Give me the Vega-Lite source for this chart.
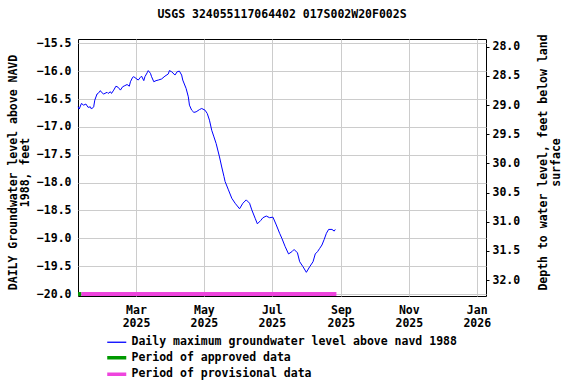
{
  "$schema": "https://vega.github.io/schema/vega-lite/v6.json",
  "autosize": "none",
  "width": 408,
  "height": 257,
  "padding": {"left": 78, "top": 39, "right": 90, "bottom": 88},
  "background": "white",
  "title": {
    "text": "USGS 324055117064402 017S002W20F002S",
    "font": "DejaVu Sans Mono",
    "fontSize": 11.5,
    "fontWeight": "bold",
    "color": "black",
    "anchor": "middle",
    "offset": 13
  },
  "config": {
    "view": {"stroke": "black", "strokeWidth": 1},
    "axis": {
      "labelFont": "DejaVu Sans Mono",
      "labelFontSize": 11.5,
      "labelFontWeight": "bold",
      "labelColor": "black",
      "titleFont": "DejaVu Sans Mono",
      "titleFontSize": 11.5,
      "titleFontWeight": "bold",
      "titleColor": "black",
      "gridColor": "#cccccc",
      "gridWidth": 1,
      "domain": false,
      "labelOverlap": false
    },
    "legend": {
      "labelFont": "DejaVu Sans Mono",
      "labelFontSize": 11.5,
      "labelFontWeight": "bold",
      "labelColor": "black"
    }
  },
  "resolve": {"scale": {"y": "independent"}, "axis": {"y": "independent"}},
  "layer": [
    {
      "layer": [
        {
          "data": {
            "values": [
              {"date": "2025-01-08T00:00", "level": -16.64, "series": "Daily maximum groundwater level above navd 1988"},
              {"date": "2025-01-09T00:00", "level": -16.68, "series": "Daily maximum groundwater level above navd 1988"},
              {"date": "2025-01-11T00:00", "level": -16.58, "series": "Daily maximum groundwater level above navd 1988"},
              {"date": "2025-01-13T00:00", "level": -16.61, "series": "Daily maximum groundwater level above navd 1988"},
              {"date": "2025-01-15T00:00", "level": -16.59, "series": "Daily maximum groundwater level above navd 1988"},
              {"date": "2025-01-17T00:00", "level": -16.65, "series": "Daily maximum groundwater level above navd 1988"},
              {"date": "2025-01-19T00:00", "level": -16.64, "series": "Daily maximum groundwater level above navd 1988"},
              {"date": "2025-01-20T00:00", "level": -16.68, "series": "Daily maximum groundwater level above navd 1988"},
              {"date": "2025-01-22T00:00", "level": -16.64, "series": "Daily maximum groundwater level above navd 1988"},
              {"date": "2025-01-23T00:00", "level": -16.52, "series": "Daily maximum groundwater level above navd 1988"},
              {"date": "2025-01-25T00:00", "level": -16.41, "series": "Daily maximum groundwater level above navd 1988"},
              {"date": "2025-01-26T00:00", "level": -16.40, "series": "Daily maximum groundwater level above navd 1988"},
              {"date": "2025-01-28T00:00", "level": -16.35, "series": "Daily maximum groundwater level above navd 1988"},
              {"date": "2025-01-29T00:00", "level": -16.38, "series": "Daily maximum groundwater level above navd 1988"},
              {"date": "2025-01-31T00:00", "level": -16.41, "series": "Daily maximum groundwater level above navd 1988"},
              {"date": "2025-02-03T00:00", "level": -16.38, "series": "Daily maximum groundwater level above navd 1988"},
              {"date": "2025-02-04T00:00", "level": -16.40, "series": "Daily maximum groundwater level above navd 1988"},
              {"date": "2025-02-06T00:00", "level": -16.37, "series": "Daily maximum groundwater level above navd 1988"},
              {"date": "2025-02-07T00:00", "level": -16.40, "series": "Daily maximum groundwater level above navd 1988"},
              {"date": "2025-02-09T00:00", "level": -16.34, "series": "Daily maximum groundwater level above navd 1988"},
              {"date": "2025-02-11T00:00", "level": -16.27, "series": "Daily maximum groundwater level above navd 1988"},
              {"date": "2025-02-13T00:00", "level": -16.29, "series": "Daily maximum groundwater level above navd 1988"},
              {"date": "2025-02-15T00:00", "level": -16.34, "series": "Daily maximum groundwater level above navd 1988"},
              {"date": "2025-02-17T00:00", "level": -16.28, "series": "Daily maximum groundwater level above navd 1988"},
              {"date": "2025-02-19T00:00", "level": -16.26, "series": "Daily maximum groundwater level above navd 1988"},
              {"date": "2025-02-21T00:00", "level": -16.24, "series": "Daily maximum groundwater level above navd 1988"},
              {"date": "2025-02-23T00:00", "level": -16.27, "series": "Daily maximum groundwater level above navd 1988"},
              {"date": "2025-02-24T00:00", "level": -16.19, "series": "Daily maximum groundwater level above navd 1988"},
              {"date": "2025-02-26T00:00", "level": -16.11, "series": "Daily maximum groundwater level above navd 1988"},
              {"date": "2025-02-27T00:00", "level": -16.10, "series": "Daily maximum groundwater level above navd 1988"},
              {"date": "2025-03-01T00:00", "level": -16.13, "series": "Daily maximum groundwater level above navd 1988"},
              {"date": "2025-03-03T00:00", "level": -16.16, "series": "Daily maximum groundwater level above navd 1988"},
              {"date": "2025-03-05T00:00", "level": -16.11, "series": "Daily maximum groundwater level above navd 1988"},
              {"date": "2025-03-06T00:00", "level": -16.09, "series": "Daily maximum groundwater level above navd 1988"},
              {"date": "2025-03-08T00:00", "level": -16.17, "series": "Daily maximum groundwater level above navd 1988"},
              {"date": "2025-03-09T00:00", "level": -16.10, "series": "Daily maximum groundwater level above navd 1988"},
              {"date": "2025-03-11T00:00", "level": -16.03, "series": "Daily maximum groundwater level above navd 1988"},
              {"date": "2025-03-12T00:00", "level": -15.99, "series": "Daily maximum groundwater level above navd 1988"},
              {"date": "2025-03-14T00:00", "level": -16.04, "series": "Daily maximum groundwater level above navd 1988"},
              {"date": "2025-03-15T00:00", "level": -16.10, "series": "Daily maximum groundwater level above navd 1988"},
              {"date": "2025-03-17T00:00", "level": -16.19, "series": "Daily maximum groundwater level above navd 1988"},
              {"date": "2025-03-19T00:00", "level": -16.17, "series": "Daily maximum groundwater level above navd 1988"},
              {"date": "2025-03-21T00:00", "level": -16.16, "series": "Daily maximum groundwater level above navd 1988"},
              {"date": "2025-03-24T00:00", "level": -16.14, "series": "Daily maximum groundwater level above navd 1988"},
              {"date": "2025-03-27T00:00", "level": -16.09, "series": "Daily maximum groundwater level above navd 1988"},
              {"date": "2025-03-30T00:00", "level": -16.05, "series": "Daily maximum groundwater level above navd 1988"},
              {"date": "2025-03-31T00:00", "level": -15.99, "series": "Daily maximum groundwater level above navd 1988"},
              {"date": "2025-04-02T00:00", "level": -16.01, "series": "Daily maximum groundwater level above navd 1988"},
              {"date": "2025-04-05T00:00", "level": -16.07, "series": "Daily maximum groundwater level above navd 1988"},
              {"date": "2025-04-07T00:00", "level": -16.01, "series": "Daily maximum groundwater level above navd 1988"},
              {"date": "2025-04-09T00:00", "level": -16.00, "series": "Daily maximum groundwater level above navd 1988"},
              {"date": "2025-04-11T00:00", "level": -16.07, "series": "Daily maximum groundwater level above navd 1988"},
              {"date": "2025-04-12T00:00", "level": -16.16, "series": "Daily maximum groundwater level above navd 1988"},
              {"date": "2025-04-15T00:00", "level": -16.31, "series": "Daily maximum groundwater level above navd 1988"},
              {"date": "2025-04-17T00:00", "level": -16.46, "series": "Daily maximum groundwater level above navd 1988"},
              {"date": "2025-04-18T00:00", "level": -16.61, "series": "Daily maximum groundwater level above navd 1988"},
              {"date": "2025-04-20T00:00", "level": -16.70, "series": "Daily maximum groundwater level above navd 1988"},
              {"date": "2025-04-22T00:00", "level": -16.74, "series": "Daily maximum groundwater level above navd 1988"},
              {"date": "2025-04-24T00:00", "level": -16.73, "series": "Daily maximum groundwater level above navd 1988"},
              {"date": "2025-04-27T00:00", "level": -16.69, "series": "Daily maximum groundwater level above navd 1988"},
              {"date": "2025-04-29T00:00", "level": -16.67, "series": "Daily maximum groundwater level above navd 1988"},
              {"date": "2025-05-02T00:00", "level": -16.70, "series": "Daily maximum groundwater level above navd 1988"},
              {"date": "2025-05-04T00:00", "level": -16.76, "series": "Daily maximum groundwater level above navd 1988"},
              {"date": "2025-05-06T00:00", "level": -16.88, "series": "Daily maximum groundwater level above navd 1988"},
              {"date": "2025-05-08T00:00", "level": -17.06, "series": "Daily maximum groundwater level above navd 1988"},
              {"date": "2025-05-10T00:00", "level": -17.18, "series": "Daily maximum groundwater level above navd 1988"},
              {"date": "2025-05-12T00:00", "level": -17.30, "series": "Daily maximum groundwater level above navd 1988"},
              {"date": "2025-05-15T00:00", "level": -17.54, "series": "Daily maximum groundwater level above navd 1988"},
              {"date": "2025-05-17T00:00", "level": -17.72, "series": "Daily maximum groundwater level above navd 1988"},
              {"date": "2025-05-19T00:00", "level": -17.89, "series": "Daily maximum groundwater level above navd 1988"},
              {"date": "2025-05-20T00:00", "level": -17.98, "series": "Daily maximum groundwater level above navd 1988"},
              {"date": "2025-05-23T00:00", "level": -18.13, "series": "Daily maximum groundwater level above navd 1988"},
              {"date": "2025-05-26T00:00", "level": -18.28, "series": "Daily maximum groundwater level above navd 1988"},
              {"date": "2025-05-29T00:00", "level": -18.37, "series": "Daily maximum groundwater level above navd 1988"},
              {"date": "2025-06-02T00:00", "level": -18.47, "series": "Daily maximum groundwater level above navd 1988"},
              {"date": "2025-06-05T00:00", "level": -18.37, "series": "Daily maximum groundwater level above navd 1988"},
              {"date": "2025-06-08T00:00", "level": -18.31, "series": "Daily maximum groundwater level above navd 1988"},
              {"date": "2025-06-11T00:00", "level": -18.37, "series": "Daily maximum groundwater level above navd 1988"},
              {"date": "2025-06-13T00:00", "level": -18.49, "series": "Daily maximum groundwater level above navd 1988"},
              {"date": "2025-06-16T00:00", "level": -18.64, "series": "Daily maximum groundwater level above navd 1988"},
              {"date": "2025-06-18T00:00", "level": -18.74, "series": "Daily maximum groundwater level above navd 1988"},
              {"date": "2025-06-21T00:00", "level": -18.68, "series": "Daily maximum groundwater level above navd 1988"},
              {"date": "2025-06-23T00:00", "level": -18.63, "series": "Daily maximum groundwater level above navd 1988"},
              {"date": "2025-06-26T00:00", "level": -18.60, "series": "Daily maximum groundwater level above navd 1988"},
              {"date": "2025-06-29T00:00", "level": -18.63, "series": "Daily maximum groundwater level above navd 1988"},
              {"date": "2025-07-02T00:00", "level": -18.62, "series": "Daily maximum groundwater level above navd 1988"},
              {"date": "2025-07-05T00:00", "level": -18.76, "series": "Daily maximum groundwater level above navd 1988"},
              {"date": "2025-07-08T00:00", "level": -18.91, "series": "Daily maximum groundwater level above navd 1988"},
              {"date": "2025-07-10T00:00", "level": -19.00, "series": "Daily maximum groundwater level above navd 1988"},
              {"date": "2025-07-13T00:00", "level": -19.15, "series": "Daily maximum groundwater level above navd 1988"},
              {"date": "2025-07-16T00:00", "level": -19.28, "series": "Daily maximum groundwater level above navd 1988"},
              {"date": "2025-07-19T00:00", "level": -19.24, "series": "Daily maximum groundwater level above navd 1988"},
              {"date": "2025-07-21T00:00", "level": -19.20, "series": "Daily maximum groundwater level above navd 1988"},
              {"date": "2025-07-24T00:00", "level": -19.26, "series": "Daily maximum groundwater level above navd 1988"},
              {"date": "2025-07-26T00:00", "level": -19.42, "series": "Daily maximum groundwater level above navd 1988"},
              {"date": "2025-07-29T00:00", "level": -19.51, "series": "Daily maximum groundwater level above navd 1988"},
              {"date": "2025-08-01T00:00", "level": -19.61, "series": "Daily maximum groundwater level above navd 1988"},
              {"date": "2025-08-04T00:00", "level": -19.51, "series": "Daily maximum groundwater level above navd 1988"},
              {"date": "2025-08-07T00:00", "level": -19.42, "series": "Daily maximum groundwater level above navd 1988"},
              {"date": "2025-08-09T00:00", "level": -19.28, "series": "Daily maximum groundwater level above navd 1988"},
              {"date": "2025-08-11T00:00", "level": -19.24, "series": "Daily maximum groundwater level above navd 1988"},
              {"date": "2025-08-13T00:00", "level": -19.18, "series": "Daily maximum groundwater level above navd 1988"},
              {"date": "2025-08-15T00:00", "level": -19.12, "series": "Daily maximum groundwater level above navd 1988"},
              {"date": "2025-08-17T00:00", "level": -19.02, "series": "Daily maximum groundwater level above navd 1988"},
              {"date": "2025-08-19T00:00", "level": -18.91, "series": "Daily maximum groundwater level above navd 1988"},
              {"date": "2025-08-21T00:00", "level": -18.84, "series": "Daily maximum groundwater level above navd 1988"},
              {"date": "2025-08-24T00:00", "level": -18.84, "series": "Daily maximum groundwater level above navd 1988"},
              {"date": "2025-08-26T00:00", "level": -18.87, "series": "Daily maximum groundwater level above navd 1988"},
              {"date": "2025-08-27T00:00", "level": -18.84, "series": "Daily maximum groundwater level above navd 1988"}
            ]
          },
          "mark": {"type": "line", "strokeWidth": 1, "interpolate": "linear"},
          "encoding": {
            "x": {
              "field": "date",
              "type": "temporal",
              "scale": {
                "domain": [
                  {"year": 2025, "month": 1, "date": 7, "hours": 22},
                  {"year": 2026, "month": 1, "date": 9, "hours": 8}
                ]
              },
              "axis": {
                "title": null,
                "grid": true,
                "ticks": false,
                "tickSize": 0,
                "labelPadding": 8,
                "labelFlush": false,
                "labelOverlap": false,
                "labelBound": false,
                "labelAlign": "center",
                "labelBaseline": "top",
                "labelLineHeight": 13,
                "values": [
                  {"year": 2025, "month": 3, "date": 1},
                  {"year": 2025, "month": 5, "date": 1},
                  {"year": 2025, "month": 7, "date": 1},
                  {"year": 2025, "month": 9, "date": 1},
                  {"year": 2025, "month": 11, "date": 1},
                  {"year": 2026, "month": 1, "date": 1}
                ],
                "labelExpr": "[timeFormat(datum.value, '%b'), timeFormat(datum.value, '%Y')]"
              }
            },
            "y": {
              "field": "level",
              "type": "quantitative",
              "scale": {"domain": [-20.035, -15.423], "nice": false, "zero": false},
              "axis": {
                "orient": "left",
                "title": ["DAILY Groundwater level above NAVD", "1988, feet"],
                "titleLineHeight": 12.3,
                "titlePadding": 6,
                "titleY": 133,
                "grid": true,
                "ticks": false,
                "tickSize": 0,
                "labelPadding": 7,
                "labelOverlap": false,
                "values": [-15.5, -16, -16.5, -17, -17.5, -18, -18.5, -19, -19.5, -20],
                "format": ".1f"
              }
            },
            "color": {
              "field": "series",
              "type": "nominal",
              "scale": {
                "domain": ["Daily maximum groundwater level above navd 1988", "Period of approved data", "Period of provisional data"],
                "range": ["#0000ff", "#009900", "#ee44dd"]
              },
              "legend": {
                "title": null,
                "orient": "none",
                "legendX": 33,
                "legendY": 297.5,
                "direction": "vertical",
                "padding": 0,
                "symbolType": "M-1.5,0H1.5",
                "symbolSize": 161,
                "symbolStrokeWidth": {"expr": "datum.value == 'Daily maximum groundwater level above navd 1988' ? 1.3 : 3.5"},
                "labelOffset": 9,
                "rowPadding": 1.5,
                "labelLimit": 500
              }
            }
          }
        },
        {
          "data": {
            "values": [
              {"series": "Period of approved data", "start": "2025-01-08T00:00", "end": "2025-01-11T00:00"},
              {"series": "Period of provisional data", "start": "2025-01-11T00:00", "end": "2025-08-28T00:00"}
            ]
          },
          "mark": {"type": "rule", "strokeWidth": 4},
          "encoding": {
            "x": {"field": "start", "type": "temporal"},
            "x2": {"field": "end"},
            "y": {
              "datum": -20,
              "type": "quantitative",
              "axis": {
                "orient": "left",
                "title": ["DAILY Groundwater level above NAVD", "1988, feet"],
                "titleLineHeight": 12.3,
                "titlePadding": 6,
                "titleY": 133,
                "grid": true,
                "ticks": false,
                "tickSize": 0,
                "labelPadding": 7,
                "labelOverlap": false,
                "values": [-15.5, -16, -16.5, -17, -17.5, -18, -18.5, -19, -19.5, -20],
                "format": ".1f"
              }
            },
            "color": {"field": "series", "type": "nominal"}
          }
        }
      ]
    },
    {
      "data": {"values": [{}]},
      "mark": {"type": "rule", "opacity": 0},
      "encoding": {
        "y": {
          "datum": 30,
          "type": "quantitative",
          "scale": {"domain": [27.868, 32.274], "reverse": true, "nice": false, "zero": false},
          "axis": {
            "orient": "right",
            "title": ["Depth to water level, feet below land", "surface"],
            "titleAngle": 270,
            "titleBaseline": "top",
            "titleLineHeight": 13,
            "titlePadding": 5,
            "titleY": 123,
            "grid": false,
            "ticks": true,
            "tickSize": 3,
            "tickColor": "black",
            "labelPadding": 3,
            "labelOverlap": false,
            "values": [28, 28.5, 29, 29.5, 30, 30.5, 31, 31.5, 32],
            "format": ".1f"
          }
        }
      }
    }
  ]
}
